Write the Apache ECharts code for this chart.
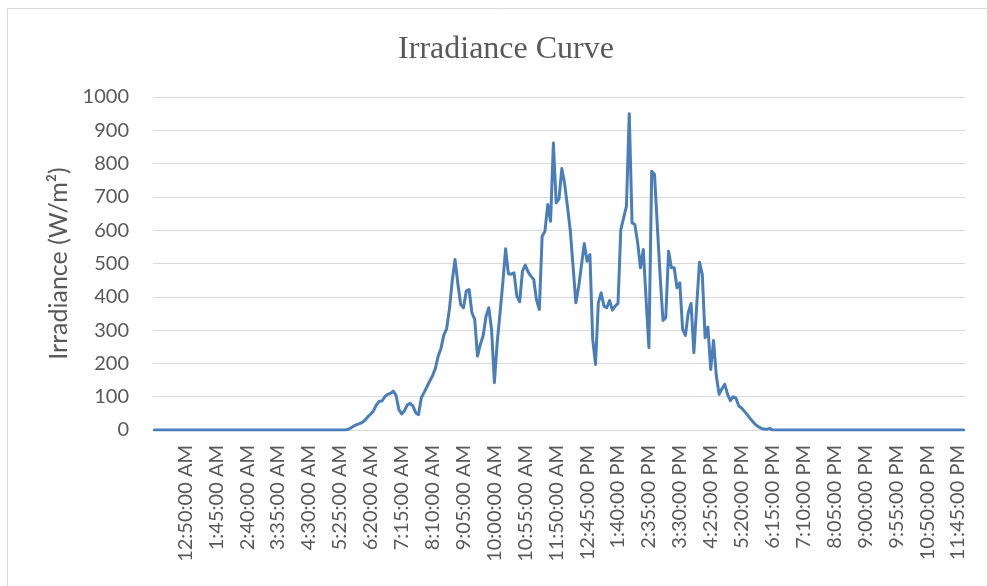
<!DOCTYPE html>
<html>
<head>
<meta charset="utf-8">
<script src="https://cdn.jsdelivr.net/npm/echarts@6/dist/echarts.min.js"></script>
<style>
  html, body { margin: 0; padding: 0; background: #ffffff; }
  #chart { width: 987px; height: 586px; }
</style>
</head>
<body>
<div id="chart"></div>
<script>
const chartTitle = 'Irradiance Curve';
const yAxisName = 'Irradiance (W/m\u00B2)';

// Axis scale (W/m²)
const yMin = 0;
const yMax = 1000;
const yStep = 100;

// Logger rows: the first row has no timestamp, then one reading every 5 minutes
function clockLabel(minutes) {
  const h = Math.floor(minutes / 60);
  const m = minutes % 60;
  const suffix = h < 12 ? 'AM' : 'PM';
  const h12 = (h % 12) || 12;
  return h12 + ':' + String(m).padStart(2, '0') + ':00 ' + suffix;
}
const times = [''];
for (let t = 0; t < 24 * 60; t += 5) times.push(clockLabel(t));

// Irradiance readings (W/m²), one per row of the log
const irradiance = [
  0, 0, 0, 0, 0, 0, 0, 0, 0, 0,
  0, 0, 0, 0, 0, 0, 0, 0, 0, 0,
  0, 0, 0, 0, 0, 0, 0, 0, 0, 0,
  0, 0, 0, 0, 0, 0, 0, 0, 0, 0,
  0, 0, 0, 0, 0, 0, 0, 0, 0, 0,
  0, 0, 0, 0, 0, 0, 0, 0, 0, 0,
  0, 0, 0, 0, 0, 0, 0, 0, 0, 2,
  7, 12, 16, 19, 23, 30, 40, 48, 58, 75,
  86, 87, 100, 107, 110, 117, 104, 62, 48, 58,
  75, 80, 72, 52, 46, 97, 113, 130, 147, 163,
  185, 222, 245, 285, 304, 363, 448, 512, 440, 377,
  367, 417, 422, 352, 332, 222, 257, 283, 340, 367,
  302, 142, 262, 350, 442, 544, 469, 468, 472, 402,
  385, 477, 495, 475, 462, 452, 390, 362, 582, 597,
  677, 627, 862, 682, 694, 785, 740, 672, 600, 492,
  382, 430, 495, 560, 507, 527, 272, 197, 382, 412,
  372, 367, 389, 360, 372, 380, 602, 637, 672, 950,
  622, 617, 562, 487, 542, 392, 247, 777, 767, 612,
  462, 329, 337, 537, 487, 487, 427, 442, 302, 284,
  352, 380, 232, 372, 504, 467, 277, 309, 182, 269,
  162, 107, 124, 137, 107, 88, 100, 95, 72, 66,
  56, 46, 35, 25, 16, 10, 5, 3, 2, 5,
  0, 0, 0, 0, 0, 0, 0, 0, 0, 0,
  0, 0, 0, 0, 0, 0, 0, 0, 0, 0,
  0, 0, 0, 0, 0, 0, 0, 0, 0, 0,
  0, 0, 0, 0, 0, 0, 0, 0, 0, 0,
  0, 0, 0, 0, 0, 0, 0, 0, 0, 0,
  0, 0, 0, 0, 0, 0, 0, 0, 0, 0,
  0, 0, 0, 0, 0, 0, 0, 0, 0
];

const textGrey = '#595959';
const gridGrey = '#d9d9d9';
const lineBlue = '#4a7ebb';
const sansFont = 'Lato, "Open Sans", sans-serif';

const chart = echarts.init(document.getElementById('chart'), null, { renderer: 'canvas' });

chart.setOption({
  animation: false,
  backgroundColor: '#ffffff',
  title: {
    text: chartTitle,
    left: 501,
    top: 29,
    textAlign: 'center',
    textStyle: {
      fontFamily: '"Liberation Serif", "Times New Roman", serif',
      fontSize: 32,
      fontWeight: 'normal',
      color: textGrey
    }
  },
  grid: { left: 153, right: 22, top: 97, bottom: 156, containLabel: false },
  xAxis: {
    type: 'category',
    data: times,
    boundaryGap: true,
    axisLine: { show: true, lineStyle: { color: gridGrey, width: 1 } },
    axisTick: { show: false },
    splitLine: { show: false },
    axisLabel: {
      interval: 10,
      rotate: 90,
      margin: 15,
      color: textGrey,
      fontFamily: sansFont,
      fontSize: 20
    }
  },
  yAxis: {
    type: 'value',
    min: yMin,
    max: yMax,
    interval: yStep,
    name: yAxisName,
    nameLocation: 'middle',
    nameGap: 80,
    nameRotate: 90,
    nameTextStyle: {
      color: textGrey,
      fontFamily: sansFont,
      fontSize: 25
    },
    axisLine: { show: false },
    axisTick: { show: false },
    axisLabel: {
      margin: 24,
      color: textGrey,
      fontFamily: sansFont,
      fontSize: 20,
      formatter: function (v) { return String(v); }
    },
    splitLine: { show: true, lineStyle: { color: gridGrey, width: 1 } }
  },
  series: [{
    type: 'line',
    data: irradiance,
    symbol: 'none',
    smooth: false,
    lineStyle: { color: lineBlue, width: 3, join: 'round', cap: 'round' }
  }],
  graphic: [{
    type: 'rect',
    silent: true,
    shape: { x: 7.5, y: 8.5, width: 1200, height: 800 },
    style: { fill: null, stroke: gridGrey, lineWidth: 1 }
  }]
});
</script>
</body>
</html>
